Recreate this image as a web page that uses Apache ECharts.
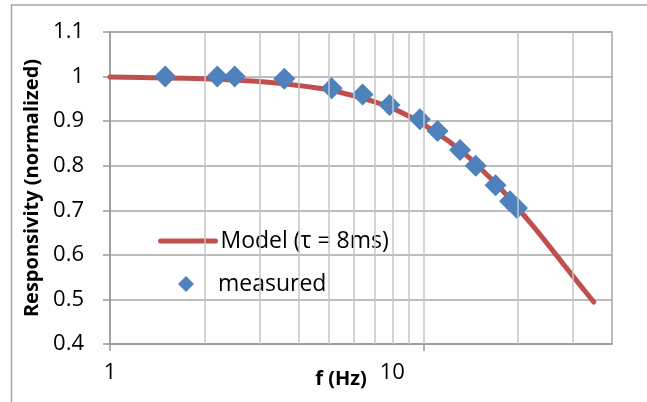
<!DOCTYPE html>
<html>
<head>
<meta charset="utf-8">
<script src="https://cdn.jsdelivr.net/npm/echarts@6/dist/echarts.min.js"></script>
<style>
  html, body { margin: 0; padding: 0; background: #fff; }
  #chart { width: 647px; height: 402px; }
</style>
</head>
<body>
<div id="chart"></div>
<script>
// Model curve, single-pole roll-off with tau = 8 ms
const modelFreq = [1, 1.5, 2, 2.5, 3, 4, 5, 6, 7, 8, 9, 10, 12, 14, 16, 18, 20, 22, 25, 28, 31, 35];
const modelResp = [0.999, 0.997, 0.995, 0.992, 0.989, 0.980, 0.970, 0.957, 0.943, 0.928, 0.911, 0.893,
                   0.856, 0.818, 0.779, 0.742, 0.705, 0.671, 0.623, 0.579, 0.540, 0.494];

// Measured points
const measFreq = [1.5, 2.2, 2.5, 3.6, 5.1, 6.4, 7.8, 9.75, 11.1, 13.1, 14.7, 17.0, 18.9, 19.9];
const measResp = [1.0, 1.0, 1.0, 0.995, 0.974, 0.96, 0.936, 0.904, 0.878, 0.835, 0.80, 0.756, 0.72, 0.705];

// Axis settings
const xMin = 1, xMax = 40;
const xLabelValues = [1, 10];
const xGridValues = [2, 3, 4, 5, 6, 7, 8, 9, 10, 20, 30];
const yMin = 0.4, yMax = 1.1, yStep = 0.1;

const modelName = 'Model (τ = 8ms)';
const measName = 'measured';
const FONT = '"Open Sans", sans-serif';

const chart = echarts.init(document.getElementById('chart'), null, { renderer: 'canvas' });

chart.setOption({
  animation: false,
  backgroundColor: '#ffffff',
  textStyle: { fontFamily: FONT },
  graphic: [{
    type: 'rect',
    left: 9, top: 2.5,
    shape: { width: 660, height: 398 },
    style: { fill: 'none', stroke: '#a6a6a6', lineWidth: 1.5 },
    silent: true
  }],
  grid: {
    left: 110, right: 35, top: 32, bottom: 58,
    outerBoundsMode: 'none', containLabel: false,
    show: true, borderColor: '#a6a6a6', borderWidth: 1.5, backgroundColor: 'transparent'
  },
  legend: [{
    data: [modelName],
    left: 158, top: 228, padding: 0,
    itemWidth: 55, itemHeight: 12, itemGap: 0,
    itemStyle: { opacity: 0 },
    lineStyle: { width: 5, cap: 'round', color: '#c0504d' },
    textStyle: { fontFamily: FONT, fontSize: 23, color: '#000', lineHeight: 26 },
    selectedMode: false
  }, {
    data: [measName],
    left: 178, top: 271, padding: 0,
    icon: 'diamond',
    itemWidth: 16, itemHeight: 16,
    itemStyle: { color: '#4f81bd', opacity: 1 },
    textStyle: { fontFamily: FONT, fontSize: 23, color: '#000', lineHeight: 26, padding: [0, 0, 0, 19] },
    selectedMode: false
  }],
  xAxis: {
    type: 'log', logBase: 10, min: xMin, max: xMax,
    name: 'f (Hz)', nameLocation: 'middle', nameGap: 25, nameMoveOverlap: false,
    nameTextStyle: { fontFamily: FONT, fontSize: 20, fontWeight: 'bold', color: '#000', padding: [0, 40, 0, 0] },
    axisLine: { show: true, lineStyle: { color: '#999999', width: 1.5 } },
    axisTick: { show: true, customValues: xLabelValues, length: 7, lineStyle: { color: '#999999', width: 1.5 } },
    axisLabel: {
      customValues: xLabelValues, margin: 18,
      fontFamily: FONT, fontSize: 22, color: '#000',
      formatter: v => (v >= 10 ? '{s|' + v + '}' : String(v)),
      rich: { s: { fontFamily: FONT, fontSize: 22, color: '#000', padding: [0, 62, 0, 0] } }
    },
    splitLine: { show: false },
    minorTick: { show: false },
    minorSplitLine: { show: false }
  },
  yAxis: {
    type: 'value', min: yMin, max: yMax, interval: yStep,
    name: 'Responsivity (normalized)', nameLocation: 'middle', nameGap: 68, nameRotate: 90,
    nameTextStyle: { fontFamily: FONT, fontSize: 20, fontWeight: 'bold', color: '#000' },
    axisLine: { show: true, lineStyle: { color: '#999999', width: 1.5 } },
    axisTick: { show: true, inside: false, length: 7, lineStyle: { color: '#999999', width: 1.5 } },
    axisLabel: {
      margin: 26, fontFamily: FONT, fontSize: 22, color: '#000',
      formatter: v => String(Math.round(v * 10) / 10)
    },
    splitLine: { show: true, lineStyle: { color: '#a6a6a6', width: 1.5 } }
  },
  series: [{
    // vertical gridlines at 2..9, 10, 20, 30 Hz
    type: 'line', name: 'grid', data: [], z: 1, silent: true,
    markLine: {
      silent: true, symbol: ['none', 'none'], animation: false,
      label: { show: false },
      lineStyle: { type: 'solid', color: '#c4c4c4', width: 1.5 },
      emphasis: { disabled: true },
      data: xGridValues.map(v => ({ xAxis: v }))
    }
  }, {
    type: 'line', name: modelName, z: 3,
    data: modelFreq.map((f, i) => [f, modelResp[i]]),
    smooth: 0.3, symbol: 'none', showSymbol: false,
    lineStyle: { color: '#c0504d', width: 5, cap: 'round' },
    itemStyle: { color: '#c0504d' }
  }, {
    type: 'scatter', name: measName, z: 4,
    data: measFreq.map((f, i) => [f, measResp[i]]),
    symbol: 'diamond', symbolSize: 22,
    itemStyle: { color: '#4f81bd', opacity: 1 }
  }]
});
</script>
</body>
</html>
